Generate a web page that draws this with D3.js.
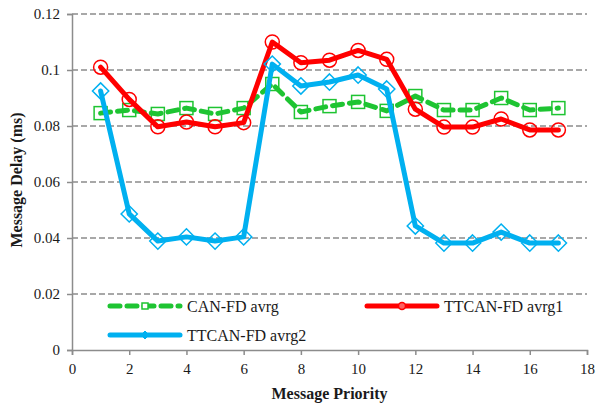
<!DOCTYPE html>
<html>
<head>
<meta charset="utf-8">
<script src="https://cdn.jsdelivr.net/npm/d3@7"></script>
<style>
  html, body { margin: 0; padding: 0; background: #fff; }
  svg { display: block; }
  svg text { font-family: "Liberation Serif", "Times New Roman", Times, serif !important; }
</style>
</head>
<body>
<svg id="chart" width="604" height="408"></svg>
<script>
// Message priority (x) and average delay per scheme (ms)
const priorities = [1, 2, 3, 4, 5, 6, 7, 8, 9, 10, 11, 12, 13, 14, 15, 16, 17];
const canFdAvrg = [0.0846, 0.0857, 0.0843, 0.0864, 0.0843, 0.0864, 0.0950, 0.0850, 0.0871, 0.0886, 0.0854, 0.0907, 0.0857, 0.0857, 0.0900, 0.0857, 0.0864];
const ttcanAvrg1 = [0.1010, 0.0895, 0.0797, 0.0814, 0.0797, 0.0812, 0.1100, 0.1026, 0.1035, 0.1070, 0.1038, 0.0860, 0.0796, 0.0796, 0.0825, 0.0786, 0.0786];
const ttcanAvrg2 = [0.0925, 0.0486, 0.0389, 0.0404, 0.0389, 0.0404, 0.1021, 0.0943, 0.0957, 0.0982, 0.0932, 0.0443, 0.0382, 0.0382, 0.0421, 0.0382, 0.0382];
const xTicks = [0, 2, 4, 6, 8, 10, 12, 14, 16, 18];
const yTicks = [0, 0.02, 0.04, 0.06, 0.08, 0.1, 0.12];

const series = [
  { name: "CAN-FD avrg", values: canFdAvrg, color: "#1ec432", marker: "square", dash: "10,7" },
  { name: "TTCAN-FD avrg1", values: ttcanAvrg1, color: "#ff0000", marker: "circle", dash: null },
  { name: "TTCAN-FD avrg2", values: ttcanAvrg2, color: "#00b0f0", marker: "diamond", dash: null }
];

const svg = d3.select("#chart");
const plotLeft = 72, plotRight = 587, plotTop = 14, plotBottom = 350;

const x = d3.scaleLinear().domain([0, 18]).range([plotLeft, plotRight]);
const y = d3.scaleLinear().domain([0, 0.12]).range([plotBottom, plotTop]);

const axisColor = "#8c8c8c";
const textColor = "#1a1a1a";

// horizontal dashed gridlines
svg.append("g")
  .selectAll("line")
  .data(yTicks.filter(d => d > 0))
  .join("line")
  .attr("x1", plotLeft).attr("x2", plotRight)
  .attr("y1", d => y(d)).attr("y2", d => y(d))
  .attr("stroke", "#8c8c8c")
  .attr("stroke-width", 1.5)
  .attr("stroke-dasharray", "6,3");

// y axis
const yAxis = svg.append("g")
  .attr("transform", `translate(${plotLeft},0)`)
  .call(d3.axisLeft(y).tickValues(yTicks).tickSize(5).tickPadding(7).tickFormat(d => String(+d.toFixed(2))));
yAxis.select(".domain").attr("stroke", axisColor).attr("stroke-width", 1.5);
yAxis.selectAll(".tick line").attr("stroke", axisColor).attr("stroke-width", 1.5);
yAxis.selectAll(".tick text").attr("font-size", 15).attr("fill", textColor);

// x axis
const xAxis = svg.append("g")
  .attr("transform", `translate(0,${plotBottom})`)
  .call(d3.axisBottom(x).tickValues(xTicks).tickSize(5).tickPadding(8));
xAxis.select(".domain").attr("stroke", axisColor).attr("stroke-width", 1.5);
xAxis.selectAll(".tick line").attr("stroke", axisColor).attr("stroke-width", 1.5);
xAxis.selectAll(".tick text").attr("font-size", 15).attr("fill", textColor);

// axis titles
svg.append("text")
  .attr("x", (plotLeft + plotRight) / 2).attr("y", 399)
  .attr("text-anchor", "middle")
  .attr("font-weight", "bold").attr("font-size", 16).attr("fill", textColor)
  .text("Message Priority");

svg.append("text")
  .attr("transform", `translate(22,${(plotTop + plotBottom) / 2 - 2}) rotate(-90)`)
  .attr("text-anchor", "middle")
  .attr("font-weight", "bold").attr("font-size", 16).attr("fill", textColor)
  .text("Message Delay (ms)");

// marker shapes
function drawMarker(g, type, cx, cy, size, color, sw) {
  if (type === "circle") {
    g.append("circle").attr("cx", cx).attr("cy", cy).attr("r", size)
      .attr("fill", "none").attr("stroke", color).attr("stroke-width", sw);
  } else if (type === "square") {
    g.append("rect").attr("x", cx - size).attr("y", cy - size)
      .attr("width", size * 2).attr("height", size * 2)
      .attr("fill", "none").attr("stroke", color).attr("stroke-width", sw);
  } else {
    const s = size * 1.25;
    g.append("path")
      .attr("d", `M${cx},${cy - s}L${cx + s},${cy}L${cx},${cy + s}L${cx - s},${cy}Z`)
      .attr("fill", "none").attr("stroke", color).attr("stroke-width", sw);
  }
}

const line = d3.line().x(d => x(d[0])).y(d => y(d[1]));

series.forEach(s => {
  const g = svg.append("g");
  const pts = priorities.map((p, i) => [p, s.values[i]]);
  g.append("path")
    .datum(pts)
    .attr("d", line)
    .attr("fill", "none")
    .attr("stroke", s.color)
    .attr("stroke-width", 5)
    .attr("stroke-linejoin", "round")
    .attr("stroke-linecap", "round")
    .attr("stroke-dasharray", s.dash);
  pts.forEach(p => drawMarker(g, s.marker, x(p[0]), y(p[1]), s.marker === "circle" ? 7 : 6.5, s.color, 1.5));
});

// legend inside the plot area
const legendItems = [
  { s: series[0], lx: 110, ly: 306 },
  { s: series[1], lx: 367, ly: 306 },
  { s: series[2], lx: 110, ly: 335 }
];
legendItems.forEach(({ s, lx, ly }) => {
  const g = svg.append("g");
  g.append("line")
    .attr("x1", lx).attr("x2", lx + 70).attr("y1", ly).attr("y2", ly)
    .attr("stroke", s.color).attr("stroke-width", 5)
    .attr("stroke-linecap", "round")
    .attr("stroke-dasharray", s.dash);
  const mx = lx + 35;
  if (s.marker === "circle") {
    g.append("circle").attr("cx", mx).attr("cy", ly).attr("r", 3.5)
      .attr("fill", "#ff6060").attr("stroke", s.color).attr("stroke-width", 1.5);
  } else if (s.marker === "square") {
    g.append("rect").attr("x", mx - 3).attr("y", ly - 3).attr("width", 6).attr("height", 6)
      .attr("fill", "#fff").attr("stroke", s.color).attr("stroke-width", 1.5);
  } else {
    g.append("path").attr("d", `M${mx},${ly - 4}L${mx + 4},${ly}L${mx},${ly + 4}L${mx - 4},${ly}Z`)
      .attr("fill", s.color).attr("stroke", s.color).attr("stroke-width", 1);
  }
  g.append("text")
    .attr("x", lx + 77).attr("y", ly + 6)
    .attr("font-size", 16).attr("fill", textColor)
    .text(s.name);
});
</script>
</body>
</html>
